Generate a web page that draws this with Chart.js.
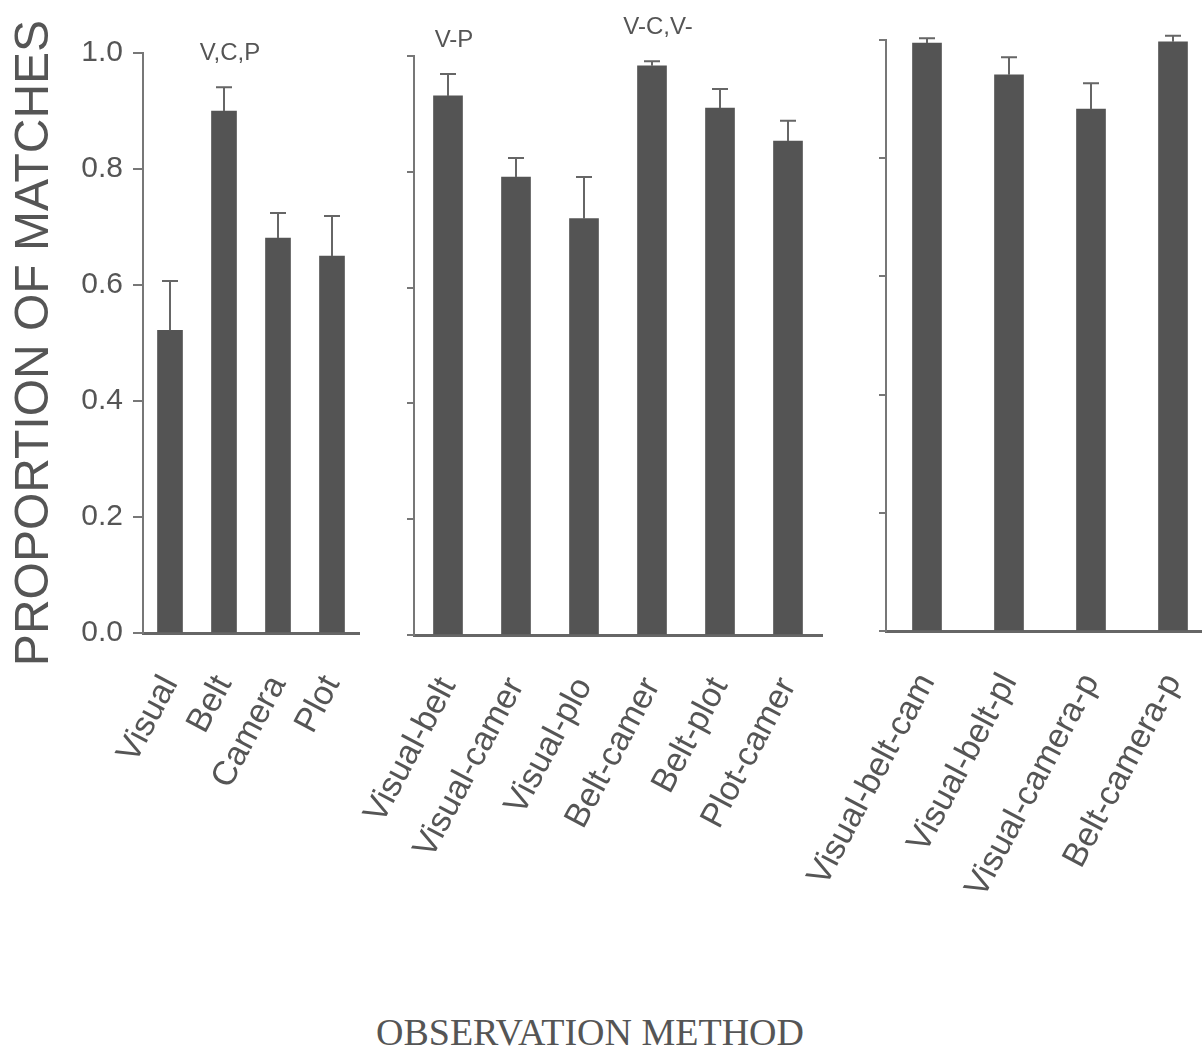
<!DOCTYPE html>
<html>
<head>
<meta charset="utf-8">
<script src="https://cdn.jsdelivr.net/npm/chart.js@4.4.0/dist/chart.umd.min.js"></script>
<style>
html, body { margin:0; padding:0; background:#fff; overflow:hidden }
#page { position:relative; width:1202px; height:1051px; overflow:hidden }
.panel { position:absolute; top:0; height:1000px }
#xTitle { position:absolute; left:0; width:1180px; top:1013px; text-align:center;
  font:38px/1 "Liberation Serif", "Times New Roman", serif; color:#555 }
</style>
</head>
<body>
<div id="page">
  <div class="panel" style="left:0;width:370px"><canvas id="single"></canvas></div>
  <div class="panel" style="left:350px;width:490px"><canvas id="pair"></canvas></div>
  <div class="panel" style="left:760px;width:460px"><canvas id="triple"></canvas></div>
  <div id="xTitle">OBSERVATION METHOD</div>
</div>
<script>
// single methods
const singleLabels = ['Visual', 'Belt', 'Camera', 'Plot']
const singleValues = [0.522, 0.900, 0.681, 0.650]
const singleErrors = [0.085, 0.041, 0.043, 0.069]
const singleNotes  = ['', 'V,C,P', '', '']

// pairs of methods
const pairLabels = ['Visual-belt', 'Visual-camer', 'Visual-plo', 'Belt-camer', 'Belt-plot', 'Plot-camer']
const pairValues = [0.931, 0.791, 0.719, 0.983, 0.910, 0.853]
const pairErrors = [0.038, 0.033, 0.072, 0.008, 0.033, 0.035]
const pairNotes  = ['V-P', '', '', 'V-C,V-', '', '']

// triples of methods
const tripleLabels = ['Visual-belt-cam', 'Visual-belt-pl', 'Visual-camera-p', 'Belt-camera-p']
const tripleValues = [0.995, 0.941, 0.883, 0.997]
const tripleErrors = [0.008, 0.030, 0.044, 0.010]
const tripleNotes  = ['', '', '', '']

const yTicks = [0, 0.2, 0.4, 0.6, 0.8, 1.0]

const TEXT = '#555'
const SANS = '"Liberation Sans", Arial, sans-serif'

const errorBars = {
  id: 'errorBars',
  afterDatasetsDraw(chart, args, opts) {
    const { ctx } = chart
    const y = chart.scales.y
    const meta = chart.getDatasetMeta(0)
    const vals = chart.data.datasets[0].data
    ctx.save()
    meta.data.forEach((bar, i) => {
      const top = y.getPixelForValue(vals[i] + opts.errors[i])
      ctx.strokeStyle = '#666'
      ctx.lineWidth = 2
      ctx.beginPath()
      ctx.moveTo(bar.x, bar.y); ctx.lineTo(bar.x, top)
      ctx.moveTo(bar.x - 8, top); ctx.lineTo(bar.x + 8, top)
      ctx.stroke()
      const note = opts.notes[i]
      if (note) {
        ctx.fillStyle = TEXT
        ctx.font = '24px ' + SANS
        ctx.textAlign = 'center'
        ctx.textBaseline = 'middle'
        ctx.fillText(note, bar.x + 6, top - 34)
      }
    })
    ctx.restore()
  }
}

function makePanel(id, labels, values, errors, notes, cfg) {
  const ctx = document.getElementById(id)
  if (!ctx) { console.error('canvas not found', id); return }
  return new Chart(ctx, {
    type: 'bar',
    data: { labels, datasets: [{ data: values, backgroundColor: '#545454', barThickness: cfg.bar }] },
    plugins: [errorBars],
    options: {
      responsive: true, maintainAspectRatio: false, animation: false,
      layout: { padding: { top: cfg.top, right: cfg.right, left: 0, bottom: 0 } },
      plugins: { legend: { display: false }, tooltip: { enabled: false }, errorBars: { errors, notes } },
      scales: {
        x: {
          grid: { display: false, drawTicks: false },
          border: { display: true, color: '#666', width: 3 },
          ticks: { color: TEXT, font: { family: SANS, size: 34 }, minRotation: 62, maxRotation: 62, autoSkip: false, padding: 36 },
          afterFit: s => { s.height = cfg.xh; s.paddingLeft = s.paddingRight = 0 }
        },
        y: {
          min: 0, max: 1,
          afterBuildTicks: s => { s.ticks = yTicks.map(v => ({ value: v })) },
          grid: { display: true, drawOnChartArea: false, drawTicks: true, tickLength: cfg.tick, color: '#777', lineWidth: 2 },
          border: { display: true, color: '#777', width: 2 },
          ticks: {
            color: TEXT, font: { family: SANS, size: 30 }, padding: 10,
            callback: v => cfg.yLabels ? Number(v).toFixed(1) : ''
          },
          title: cfg.yTitle
            ? { display: true, text: 'PROPORTION OF MATCHES', color: TEXT, font: { family: SANS, size: 48 }, padding: { top: 6, bottom: 0 } }
            : { display: false },
          afterFit: s => { s.width = cfg.yw; s.paddingTop = s.paddingBottom = 0 }
        }
      }
    }
  })
}

document.addEventListener('DOMContentLoaded', () => {
  try {
    makePanel('single', singleLabels, singleValues, singleErrors, singleNotes,
      { top: 53, right: 11, yw: 143, xh: 367, bar: 25, tick: 10, yLabels: true, yTitle: true })
    makePanel('pair', pairLabels, pairValues, pairErrors, pairNotes,
      { top: 56, right: 18, yw: 64, xh: 365, bar: 29, tick: 7, yLabels: false, yTitle: false })
    makePanel('triple', tripleLabels, tripleValues, tripleErrors, tripleNotes,
      { top: 40, right: 6, yw: 126, xh: 369, bar: 29, tick: 7, yLabels: false, yTitle: false })
  } catch (e) {
    console.error('Chart init error:', e)
  }
})
</script>
</body>
</html>
